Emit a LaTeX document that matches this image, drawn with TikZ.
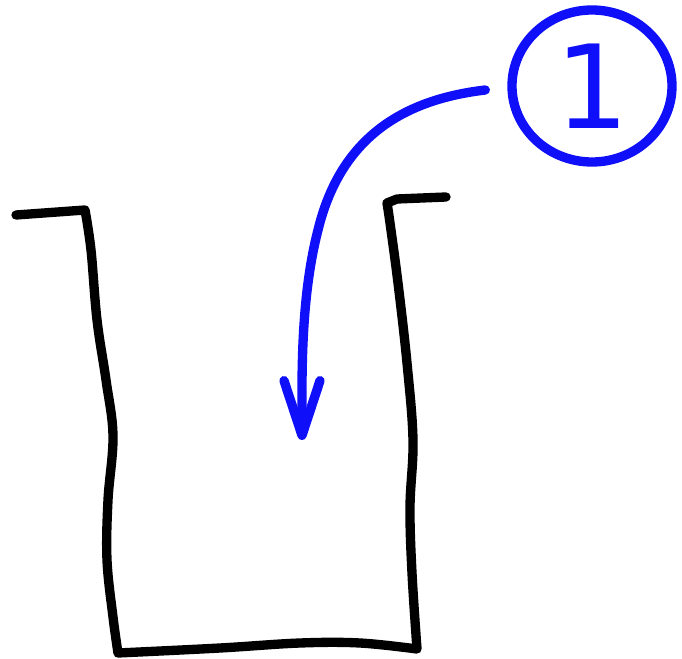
\documentclass[tikz,border=0pt]{standalone}
\usepackage{fontspec}
\newfontfamily\digitfont{DejaVu Sans}
\usetikzlibrary{shapes.geometric,arrows.meta,calc}
\definecolor{penblue}{RGB}{15,15,250}
\tikzset{
  pen/.style={line width=7pt, line cap=round, line join=round},
  wallline/.style={pen, draw=black},
  bluepen/.style={pen, draw=penblue},
  badge/.style={ellipse, draw=penblue, line width=7pt, minimum width=120pt, minimum height=114pt, inner sep=0pt, text=penblue, font=\digitfont\fontsize{87}{90}\selectfont},
  barb/.style={-{Straight Barb[length=41pt,width=27pt,line cap=round,line join=round]}}
}
\begin{document}
\begin{tikzpicture}[x=0.75pt,y=-0.75pt]
\useasboundingbox (0,0) rectangle (682,659);
% container
\draw[wallline] (16,215) -- (85,210)
  -- plot[smooth,tension=0.6] coordinates {(85,210) (91,250) (97,320) (106,380) (113,436) (108,500) (107,560) (113,617) (118,653)}
  -- plot[smooth,tension=0.6] coordinates {(118,653) (220,648) (300,643) (360,643) (417,649)}
  -- plot[smooth,tension=0.6] coordinates {(417,649) (412,573) (410,507) (413,440) (407,363) (398,283) (390,223) (387,203)}
  -- (397,199) -- (446,197);
% badge
\node[badge] (one) at (592,86) {1};
\coordinate (s) at ($(one.west)+(-22,4)$);
\coordinate (e) at (302,440);
\draw[bluepen,barb] (s) .. controls (400,100) and (340,140) .. (318,230) .. controls (300,300) and (302,380) .. (e);
\end{tikzpicture}
\end{document}
